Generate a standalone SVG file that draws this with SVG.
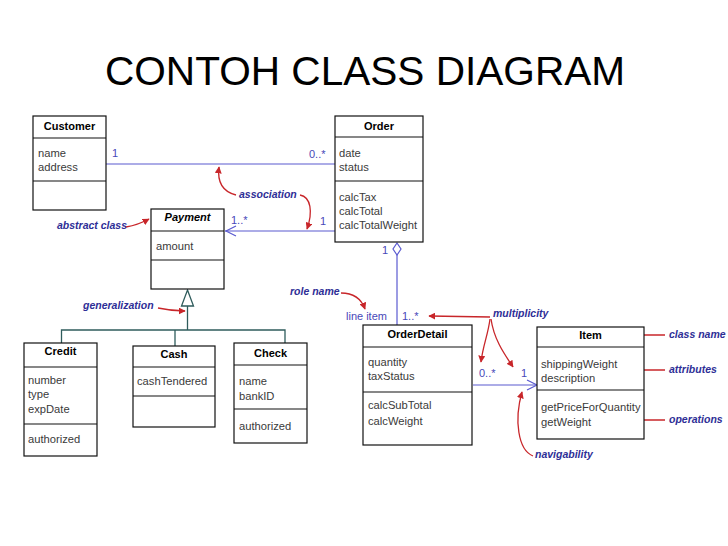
<svg xmlns="http://www.w3.org/2000/svg" width="728" height="546" viewBox="0 0 728 546">
<defs>
<style>
.box{fill:#fff;stroke:#111;stroke-width:1.2}
.div{stroke:#111;stroke-width:1.1}
.cn{font-family:"Liberation Sans",Arial,sans-serif;font-size:11px;font-weight:bold;fill:#000;text-anchor:middle}
.cni{font-family:"Liberation Sans",Arial,sans-serif;font-size:11px;font-weight:bold;font-style:italic;fill:#000;text-anchor:middle}
.at{font-family:"Liberation Sans",Arial,sans-serif;font-size:11.2px;fill:#3a3a3a}
.bl{stroke:#5a5ad0;stroke-width:1.2;fill:none}
.bt{font-family:"Liberation Sans",Arial,sans-serif;font-size:11px;fill:#4848b8}
.gl{stroke:#2f5c5c;stroke-width:1.3;fill:none}
.an{font-family:"Liberation Sans",Arial,sans-serif;font-size:10.5px;font-weight:bold;font-style:italic;fill:#2e2e96}
.ra{stroke:#c8262a;stroke-width:1.3;fill:none;marker-end:url(#rh)}
</style>
<marker id="rh" viewBox="0 0 10 10" refX="9" refY="5" markerWidth="7" markerHeight="7" markerUnits="userSpaceOnUse" orient="auto">
<path d="M0,0 L10,5 L0,10 z" fill="#c8262a"/>
</marker>
</defs>
<rect width="728" height="546" fill="#fff"/>
<text x="105" y="85" font-family="Liberation Sans,Arial,sans-serif" font-size="40.6" fill="#000">CONTOH CLASS DIAGRAM</text>

<g id="connectors">
<line class="bl" x1="106" y1="164" x2="335" y2="164"/>
<line class="bl" x1="225" y1="231" x2="335" y2="231"/>
<polyline class="bl" points="236,226 226,231 236,236"/>
<polygon class="bl" points="397,243 401,249 397,255 393,249" fill="#fff"/>
<line class="bl" x1="397" y1="255" x2="397" y2="325"/>
<line class="bl" x1="473" y1="385" x2="537" y2="385"/>
<polyline class="bl" points="527,380 537,385 527,390"/>
<polygon points="187.5,290 193.5,306 181.5,306" fill="#fff" stroke="#2f5c5c" stroke-width="1.3"/>
<polyline class="gl" points="187.5,306 187.5,330"/>
<polyline class="gl" points="61.5,343 61.5,330 285,330 285,343"/>
<line class="gl" x1="175" y1="330" x2="175" y2="346"/>
<text class="bt" x="112" y="157">1</text>
<text class="bt" x="309" y="158">0..*</text>
<text class="bt" x="231" y="224">1..*</text>
<text class="bt" x="320" y="225">1</text>
<text class="bt" x="382" y="254">1</text>
<text class="bt" x="346" y="320">line item</text>
<text class="bt" x="402" y="320">1..*</text>
<text class="bt" x="479" y="377">0..*</text>
<text class="bt" x="521" y="377">1</text>
</g>

<g id="annotations">
<text class="an" x="57" y="229">abstract class</text>
<path class="ra" d="M126,227 Q138,225 149,219"/>
<text class="an" x="239" y="198">association</text>
<path class="ra" d="M236,195 C224,192 217,183 219,167"/>
<path class="ra" d="M300,195 C311,197 313,212 307,229"/>
<text class="an" x="83" y="309">generalization</text>
<path class="ra" d="M158,308 Q172,311 185,311"/>
<text class="an" x="290" y="295">role name</text>
<path class="ra" d="M341,293 C353,293 361,298 365,309"/>
<text class="an" x="493" y="317">multiplicity</text>
<path class="ra" d="M490,317 L429,316"/>
<path class="ra" d="M490,319 C488,335 483,345 481,362"/>
<path class="ra" d="M491,319 C494,340 505,355 513,367"/>
<text class="an" x="669" y="338">class name</text>
<path class="ra" d="M665,335 L612,335"/>
<text class="an" x="669" y="373">attributes</text>
<path class="ra" d="M665,370 L627,370"/>
<text class="an" x="669" y="423">operations</text>
<path class="ra" d="M665,420 L627,420"/>
<text class="an" x="535" y="458">navigability</text>
<path class="ra" d="M533,456 C518,450 514,420 522,392"/>
</g>

<g id="customer">
<rect class="box" x="33" y="116" width="73" height="94"/>
<line class="div" x1="33" y1="138" x2="106" y2="138"/>
<line class="div" x1="33" y1="181" x2="106" y2="181"/>
<text class="cn" x="69.5" y="130">Customer</text>
<text class="at" x="38" y="157">name</text>
<text class="at" x="38" y="171">address</text>
</g>

<g id="order">
<rect class="box" x="335" y="116" width="88" height="126"/>
<line class="div" x1="335" y1="137" x2="423" y2="137"/>
<line class="div" x1="335" y1="181" x2="423" y2="181"/>
<text class="cn" x="379" y="130">Order</text>
<text class="at" x="339" y="157">date</text>
<text class="at" x="339" y="171">status</text>
<text class="at" x="339" y="201">calcTax</text>
<text class="at" x="339" y="215">calcTotal</text>
<text class="at" x="339" y="229">calcTotalWeight</text>
</g>

<g id="payment">
<rect class="box" x="151" y="209" width="73" height="80"/>
<line class="div" x1="151" y1="231" x2="224" y2="231"/>
<line class="div" x1="151" y1="260" x2="224" y2="260"/>
<text class="cni" x="187.5" y="221">Payment</text>
<text class="at" x="156" y="250">amount</text>
</g>

<g id="credit">
<rect class="box" x="24" y="343" width="73" height="113"/>
<line class="div" x1="24" y1="367" x2="97" y2="367"/>
<line class="div" x1="24" y1="424" x2="97" y2="424"/>
<text class="cn" x="60.5" y="355">Credit</text>
<text class="at" x="28" y="384">number</text>
<text class="at" x="28" y="398">type</text>
<text class="at" x="28" y="413">expDate</text>
<text class="at" x="28" y="443">authorized</text>
</g>

<g id="cash">
<rect class="box" x="133" y="346" width="82" height="81"/>
<line class="div" x1="133" y1="367" x2="215" y2="367"/>
<line class="div" x1="133" y1="396" x2="215" y2="396"/>
<text class="cn" x="174" y="358">Cash</text>
<text class="at" x="137" y="385">cashTendered</text>
</g>

<g id="check">
<rect class="box" x="234" y="343" width="73" height="100"/>
<line class="div" x1="234" y1="365" x2="307" y2="365"/>
<line class="div" x1="234" y1="409" x2="307" y2="409"/>
<text class="cn" x="270.5" y="357">Check</text>
<text class="at" x="239" y="385">name</text>
<text class="at" x="239" y="400">bankID</text>
<text class="at" x="239" y="430">authorized</text>
</g>

<g id="orderdetail">
<rect class="box" x="363" y="325" width="109" height="120"/>
<line class="div" x1="363" y1="347" x2="472" y2="347"/>
<line class="div" x1="363" y1="392" x2="472" y2="392"/>
<text class="cn" x="417.5" y="338">OrderDetail</text>
<text class="at" x="368" y="366">quantity</text>
<text class="at" x="368" y="380">taxStatus</text>
<text class="at" x="368" y="409">calcSubTotal</text>
<text class="at" x="368" y="425">calcWeight</text>
</g>

<g id="item">
<rect class="box" x="537" y="327" width="107" height="112"/>
<line class="div" x1="537" y1="347" x2="644" y2="347"/>
<line class="div" x1="537" y1="390" x2="644" y2="390"/>
<text class="cn" x="590.5" y="339">Item</text>
<text class="at" x="541" y="368">shippingWeight</text>
<text class="at" x="541" y="382">description</text>
<text class="at" x="541" y="411">getPriceForQuantity</text>
<text class="at" x="541" y="426">getWeight</text>
</g>
</svg>
